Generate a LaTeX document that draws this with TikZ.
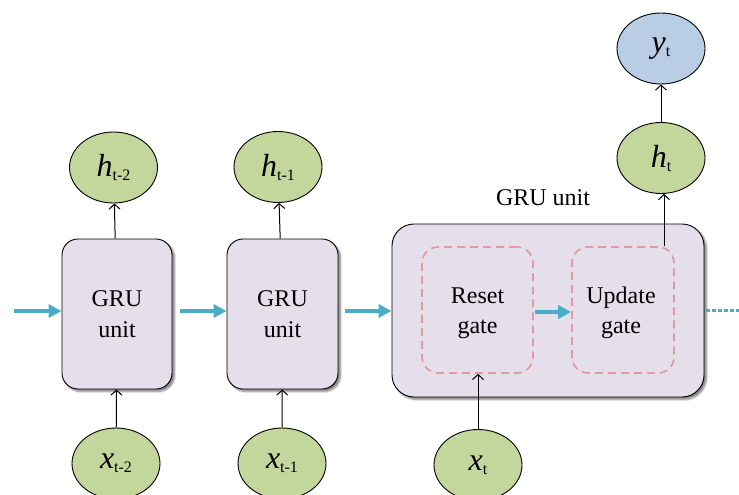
\documentclass[tikz,border=0pt]{standalone}
\usepackage{fontspec}
\setmainfont{Liberation Serif}
\usetikzlibrary{arrows.meta,shapes.geometric,shadows.blur,calc}

\definecolor{stategreen}{HTML}{C3D69B}
\definecolor{outblue}{HTML}{B9CDE5}
\definecolor{cellfill}{HTML}{E5DEEB}
\definecolor{flowteal}{HTML}{4BACC6}
\definecolor{gatered}{HTML}{E09C9A}

\newcommand{\var}[2]{{\fontsize{32}{32}\selectfont\itshape #1}\raisebox{-4pt}{\fontsize{16}{16}\selectfont #2}}

\tikzset{
  state/.style={ellipse, draw=black, line width=0.9pt, fill=stategreen,
    minimum width=88pt, minimum height=71pt, inner sep=0pt},
  output/.style={state, fill=outblue},
  cell/.style={draw=black, line width=0.9pt, fill=cellfill, rounded corners=16pt,
    align=center, font=\fontsize{24}{31}\selectfont,
    blur shadow={shadow xshift=2.5pt, shadow yshift=-2.5pt, shadow blur steps=6, shadow opacity=50}},
  gatebox/.style={draw=gatered, line width=1.7pt, dash pattern=on 8pt off 5pt,
    rounded corners=16pt},
  gatetext/.style={align=center, font=\fontsize{24}{30.5}\selectfont},
  flow/.style={draw=flowteal, line width=3.5pt, -{Triangle[length=13pt,width=13pt]}},
  link/.style={draw=black, line width=1pt, -{Straight Barb[length=5pt,width=11pt]}},
}

\begin{document}
\begin{tikzpicture}[x=1pt, y=-1pt]
  \useasboundingbox (0,0) rectangle (739,495);
  \clip (0,0) rectangle (739,495);

  % unrolled GRU cells
  \node[cell, minimum width=110pt, minimum height=150pt] (c1) at (117,314) {GRU\\unit};
  \node[cell, minimum width=111pt, minimum height=150pt] (c2) at (282.5,314) {GRU\\unit};
  \node[cell, minimum width=312pt, minimum height=173pt, rounded corners=22pt] (c3) at (548,310.5) {};
  \node[font=\fontsize{24}{28}\selectfont] (lbl) at (543,198) {GRU unit};

  % gates inside the expanded cell
  \node[gatebox, minimum width=111pt, minimum height=126pt] (reset) at (477.5,310) {};
  \node[gatebox, minimum width=102pt, minimum height=126pt] (update) at (623,310) {};
  \node[gatetext] (resettxt) at (477.5,313) {Reset\\gate};
  \node[gatetext] (updatetxt) at (621,313) {Update\\gate};

  % hidden states, inputs and output
  \node[state] (h2) at (113.5,167.5) {\var{h}{t-2}};
  \node[state] (h1) at (278,167) {\var{h}{t-1}};
  \node[state] (ht) at (661,158) {\var{h}{t}};
  \node[output] (yt) at (661,48.5) {\var{y}{t}};
  \node[state] (x2) at (116,463.5) {\var{x}{t-2}};
  \node[state] (x1) at (282,463.5) {\var{x}{t-1}};
  \node[state] (xt) at (478,465) {\var{x}{t}};

  % recurrent flow
  \coordinate (in) at (14,311);
  \coordinate (out) at (739,310);
  \draw[flow] (in) -- (c1.west |- in);
  \draw[flow] ($(c1.east |- in)+(8,0)$) -- (c2.west |- in);
  \draw[flow] ($(c2.east |- in)+(7,0)$) -- (c3.west |- in);
  \draw[flow] ($(reset.east)+(1,2)$) -- ($(update.west)+(0,2)$);
  \draw[draw=flowteal, line width=3pt, dash pattern=on 3.5pt off 2.5pt] ($(c3.east |- out)+(2,0)$) -- (out);

  % inputs and outputs
  \draw[link] (x2) -- (c1);
  \draw[link] (c1) -- (h2);
  \draw[link] (x1) -- (c2);
  \draw[link] (c2) -- (h1);
  \draw[link] (xt.north) -- (reset.south -| xt.north);
  \draw[link] ($(update.north)+(41,0)$) -- ($(ht.south)+(3,0)$);
  \draw[link] (ht) -- (yt);
\end{tikzpicture}
\end{document}
